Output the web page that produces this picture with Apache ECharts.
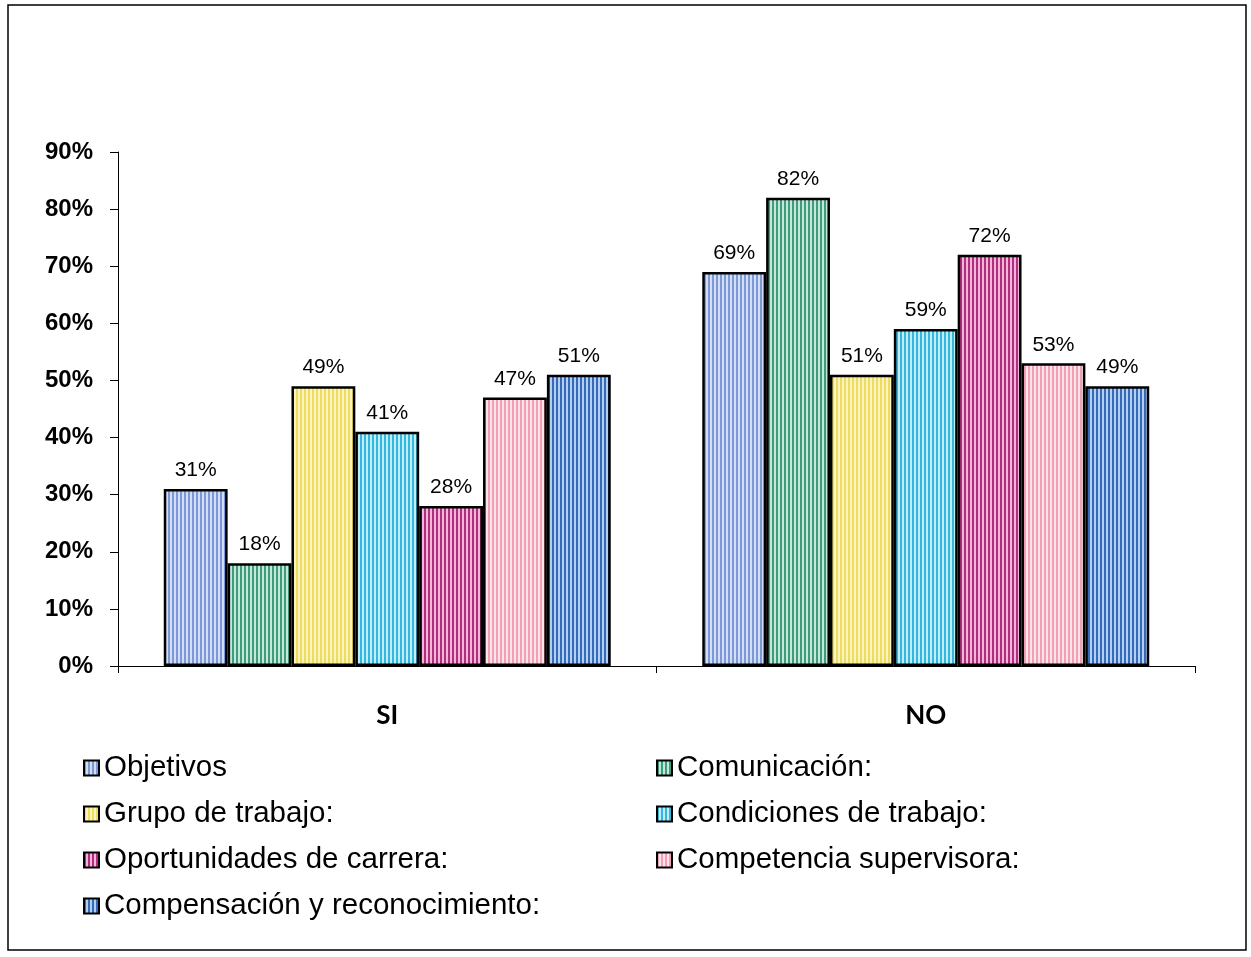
<!DOCTYPE html>
<html>
<head>
<meta charset="utf-8">
<script src="https://cdn.jsdelivr.net/npm/echarts@6/dist/echarts.min.js"></script>
<style>
  html, body { margin: 0; padding: 0; background: #ffffff; }
  #chart { width: 1251px; height: 957px; }
</style>
</head>
<body>
<div id="chart"></div>
<script>
// Categories on the x axis
const categories = ['SI', 'NO'];

// Series names (legend order)
const seriesNames = [
  'Objetivos',
  'Comunicación:',
  'Grupo de trabajo:',
  'Condiciones de trabajo:',
  'Oportunidades de carrera:',
  'Competencia supervisora:',
  'Compensación y reconocimiento:'
];

// Percentages per series: [SI, NO]
const objetivos      = [31, 69];
const comunicacion   = [18, 82];
const grupo          = [49, 51];
const condiciones    = [41, 59];
const oportunidades  = [28, 72];
const competencia    = [47, 53];
const compensacion   = [51, 49];

// Y axis tick values
const yTicks = [0, 10, 20, 30, 40, 50, 60, 70, 80, 90];

const seriesValues = [objetivos, comunicacion, grupo, condiciones, oportunidades, competencia, compensacion];

// Stripe colours [dark, light] for each series fill
const stripeColors = [
  ['#7d98d6', '#d3def5'],
  ['#3f9b7b', '#c2e8d8'],
  ['#eedc62', '#fbf5bc'],
  ['#36b6dc', '#bdeefa'],
  ['#b02f7d', '#f2b4da'],
  ['#f09fb4', '#fde3ea'],
  ['#356ab8', '#b3cff2']
];

// Build a vertical-stripe pattern for a bar fill
function stripes(dark, light) {
  const c = document.createElement('canvas');
  c.width = 4; c.height = 4;
  const ctx = c.getContext('2d');
  ctx.fillStyle = light;
  ctx.fillRect(0, 0, 4, 4);
  ctx.fillStyle = dark;
  ctx.fillRect(0, 0, 2, 4);
  return { image: c, repeat: 'repeat' };
}

const font = '"Liberation Sans", Arial, sans-serif';

const series = seriesNames.map((name, i) => ({
  name: name,
  type: 'bar',
  data: seriesValues[i],
  barGap: '0%',
  barCategoryGap: '17%',
  itemStyle: {
    color: stripes(stripeColors[i][0], stripeColors[i][1]),
    borderColor: '#000000',
    borderWidth: 2.5
  },
  label: {
    show: true,
    position: 'top',
    distance: 8,
    formatter: p => p.value + '%',
    color: '#000000',
    fontFamily: font,
    fontSize: 21
  }
}));

const legendText = {
  fontFamily: font,
  fontSize: 29.5,
  color: '#000000',
  lineHeight: 30,
  padding: 0
};

const legendBase = {
  orient: 'vertical',
  top: 753,
  padding: 0,
  itemWidth: 15,
  itemHeight: 15,
  itemGap: 16,
  icon: 'rect',
  textStyle: legendText
};

const chart = echarts.init(document.getElementById('chart'), null, { renderer: 'canvas' });

chart.setOption({
  backgroundColor: '#ffffff',
  animation: false,
  graphic: [{
    type: 'rect',
    shape: { x: 8, y: 5, width: 1238, height: 945 },
    style: { fill: 'none', stroke: '#000000', lineWidth: 1.5 },
    silent: true
  }],
  grid: { left: 118, right: 56, top: 152, bottom: 291, containLabel: false },
  legend: [
    Object.assign({}, legendBase, {
      left: 83,
      data: [seriesNames[0], seriesNames[2], seriesNames[4], seriesNames[6]]
    }),
    Object.assign({}, legendBase, {
      left: 656,
      data: [seriesNames[1], seriesNames[3], seriesNames[5]]
    })
  ],
  xAxis: {
    type: 'category',
    data: categories,
    axisLine: { lineStyle: { color: '#000000', width: 1 } },
    axisTick: { show: true, length: 7, lineStyle: { color: '#000000' } },
    axisLabel: {
      margin: 37,
      fontFamily: 'Lato, "Open Sans", sans-serif',
      fontWeight: 'bold',
      fontSize: 26,
      color: '#000000'
    }
  },
  yAxis: {
    type: 'value',
    min: yTicks[0],
    max: yTicks[yTicks.length - 1],
    interval: yTicks[1] - yTicks[0],
    axisLine: { show: true, lineStyle: { color: '#000000', width: 1 } },
    axisTick: { show: true, length: 8, lineStyle: { color: '#000000' } },
    splitLine: { show: false },
    axisLabel: {
      margin: 25,
      formatter: '{value}%',
      fontFamily: font,
      fontWeight: 'bold',
      fontSize: 24,
      color: '#000000'
    }
  },
  series: series
});
</script>
</body>
</html>
